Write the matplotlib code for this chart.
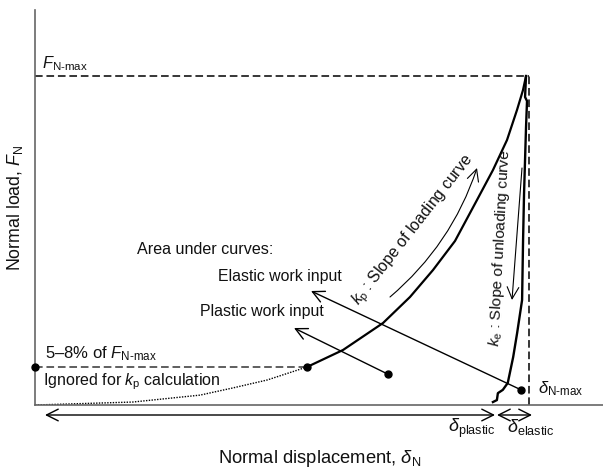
import matplotlib
matplotlib.use("Agg")
import matplotlib.pyplot as plt
from matplotlib.patches import FancyArrowPatch

plt.rcParams['font.family'] = ['Liberation Sans', 'DejaVu Sans']
plt.rcParams['mathtext.fontset'] = 'custom'
plt.rcParams['mathtext.rm'] = 'Liberation Sans'
plt.rcParams['mathtext.it'] = 'Liberation Sans:italic'
plt.rcParams['mathtext.bf'] = 'Liberation Sans:bold'

# ---- data (normalised: F / F_N-max, delta / delta_N-max) ----
F_max = 1.0
d_max = 1.0
threshold = 0.1155          # 5-8 % of F_N-max

ignored_disp = [0.0, 0.198, 0.334, 0.401, 0.470, 0.5506]
ignored_load = [0.0, 0.009, 0.030, 0.052, 0.076, 0.1155]

load_disp = [0.5506, 0.6235, 0.7045, 0.7591, 0.8057, 0.8502, 0.8947,
             0.9271, 0.9555, 0.9757, 0.9879, 0.994]
load_load = [0.1155, 0.1672, 0.2492, 0.3283, 0.4103, 0.4985, 0.6231,
             0.7143, 0.8055, 0.8967, 0.9574, 1.0]

unload_disp = [0.994, 0.992, 0.996, 0.994, 0.992, 0.990, 0.988, 0.986,
               0.976, 0.968, 0.957, 0.947, 0.937, 0.935, 0.927]
unload_load = [1.0, 0.936, 0.924, 0.845, 0.745, 0.644, 0.502, 0.319,
               0.219, 0.146, 0.067, 0.046, 0.036, 0.015, 0.009]

plastic_pt = (0.714, 0.094)
elastic_pt = (0.984, 0.046)

# ---- figure ----
W, H = 603, 471
fig = plt.figure(figsize=(W / 100, H / 100), dpi=100)
X0, Y0 = 35, 405           # axes origin in pixels
SX, SY = 494, 329          # pixels per unit
ax = fig.add_axes([X0 / W, (H - Y0) / H, (W - X0) / W, (Y0 - 10) / H])
ax.set_xlim(0, (W - X0) / SX)
ax.set_ylim(0, (Y0 - 10) / SY)


def P(px, py):
    return ((px - X0) / SX, (Y0 - py) / SY)


for s in ['top', 'right']:
    ax.spines[s].set_visible(False)
for s in ['left', 'bottom']:
    ax.spines[s].set_color('#666666')
    ax.spines[s].set_linewidth(1.2)
ax.set_xticks([])
ax.set_yticks([])

dash = (0, (5, 2.5))
ax.plot([0, d_max], [F_max, F_max], color='black', lw=1.1, ls=dash)
ax.plot([d_max, d_max], [0, F_max], color='black', lw=1.1, ls=dash)
ax.plot([0, load_disp[0]], [threshold, threshold], color='#333333', lw=1.1, ls=dash)

ax.plot(ignored_disp, ignored_load, color='black', lw=1.0, ls=(0, (1, 1)))
ax.plot(load_disp, load_load, color='black', lw=1.6, solid_capstyle='round')
ax.plot(unload_disp, unload_load, color='black', lw=1.7, solid_joinstyle='round')

ax.plot([0, load_disp[0], plastic_pt[0], elastic_pt[0]],
        [threshold, threshold, plastic_pt[1], elastic_pt[1]],
        'o', color='black', ms=5, clip_on=False, zorder=5)

astyle = '->,head_length=0.7,head_width=0.35'
def arrow(p0, p1, style=astyle, rad=0.0, lw=1.0):
    a = FancyArrowPatch(p0, p1, arrowstyle=style, mutation_scale=12,
                        connectionstyle=f'arc3,rad={rad}', color='black',
                        lw=lw, clip_on=False, shrinkA=0, shrinkB=0)
    ax.add_patch(a)

arrow(elastic_pt, P(311, 291))
arrow(plastic_pt, P(294, 328))
arrow(P(390, 297), P(477, 168), rad=0.14, lw=0.8)
arrow(P(522, 168), P(512, 300), lw=0.8)
dstyle = '<->,head_length=0.7,head_width=0.35'
arrow(P(45, 415), P(495, 415), style=dstyle)
arrow(P(497, 415), P(532, 415), style=dstyle)

fs = 11.7
def T(px, py, s, **kw):
    x, y = P(px, py)
    kw.setdefault('ha', 'left')
    kw.setdefault('va', 'baseline')
    ax.text(x, y, s, fontsize=kw.pop('fontsize', fs), color='#111111',
            clip_on=False, **kw)

T(42, 68, r'$F_{\text{N-max}}$', fontsize=11.8)
T(137, 254, 'Area under curves:', fontsize=11.6)
T(218, 281, 'Elastic work input', fontsize=11.4)
T(200, 316, 'Plastic work input', fontsize=11.4)
T(45, 358, r'5–8% of $F_{\text{N-max}}$', fontsize=12)
T(43, 385, r'Ignored for $k_{\text{p}}$ calculation', fontsize=11.5)
T(538, 393, r'$\delta_{\text{N-max}}$', fontsize=12)
T(448, 432, r'$\delta_{\text{plastic}}$', fontsize=13)
T(507, 432, r'$\delta_{\text{elastic}}$', fontsize=13)
T(413, 230, r'$k_{\text{p}}$ : Slope of loading curve', ha='center', va='center',
  rotation=52, rotation_mode='anchor', fontsize=11.4)
T(500, 248, r'$k_{\text{e}}$ : Slope of unloading curve', ha='center', va='center',
  rotation=87, rotation_mode='anchor', fontsize=11.1)
T(320, 463, r'Normal displacement, $\delta_{\text{N}}$', ha='center', fontsize=13.2)
T(15, 208, r'Normal load, $F_{\text{N}}$', ha='center', va='center', rotation=90,
  fontsize=12.8)

fig.savefig('out.png', dpi=100)
